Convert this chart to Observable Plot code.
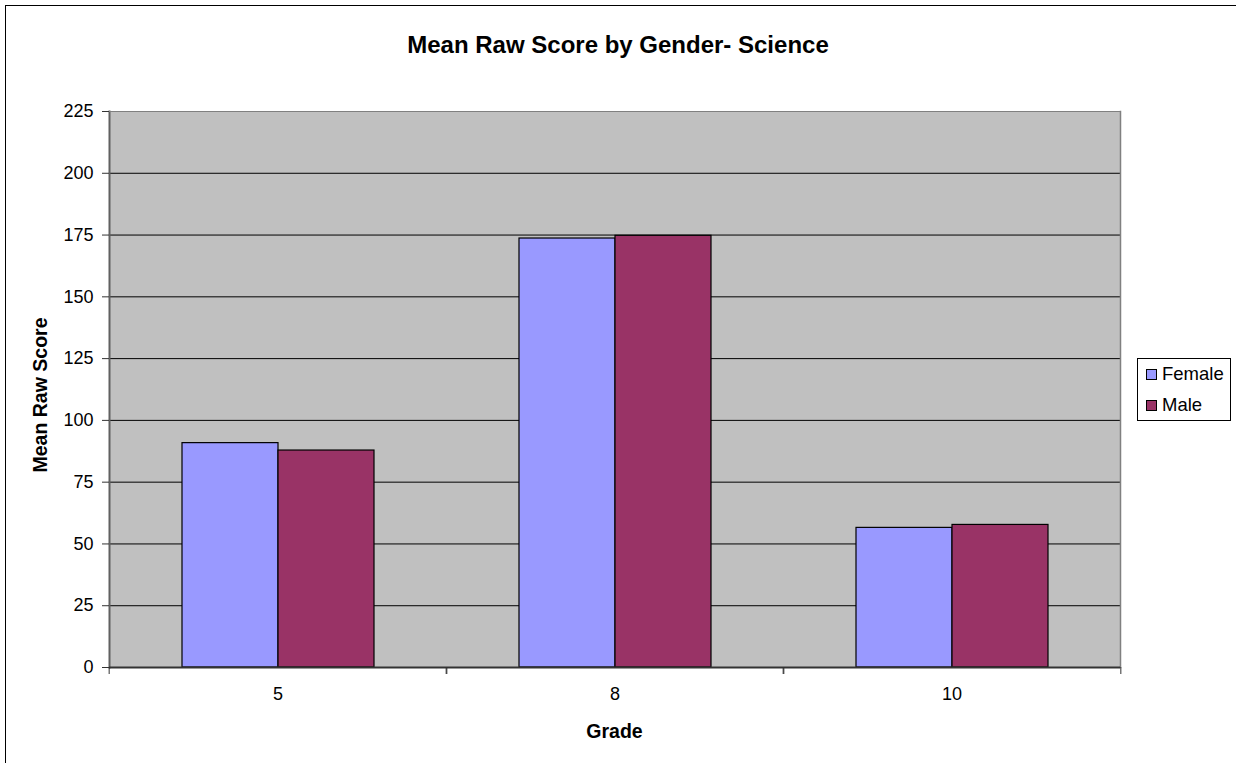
<!DOCTYPE html>
<html>
<head>
<meta charset="utf-8">
<script src="https://cdn.jsdelivr.net/npm/d3@7"></script>
<script src="https://cdn.jsdelivr.net/npm/@observablehq/plot@0.6"></script>
<style>
  html, body { margin: 0; padding: 0; background: #fff; overflow: hidden; }
  #wrap { position: relative; width: 1236px; height: 763px; overflow: hidden; font-family: "Liberation Sans", Arial, sans-serif; color: #000; }
  #outer { position: absolute; left: 5px; top: 5px; width: 1231px; height: 758px; border-left: 1px solid #000; border-top: 1px solid #000; box-sizing: border-box; }
  #title { position: absolute; left: 0; width: 1236px; top: 31px; text-align: center; font-weight: bold; font-size: 24px; }
  #ylab { position: absolute; left: 40px; top: 395px; transform: translate(-50%, -50%) rotate(-90deg); font-weight: bold; font-size: 19.5px; white-space: nowrap; }
  #xlab { position: absolute; left: 0; width: 1229px; top: 720px; text-align: center; font-weight: bold; font-size: 19.5px; }
  #legend { position: absolute; left: 1137px; top: 358px; width: 94px; height: 63px; border: 1px solid #000; background: #fff; box-sizing: border-box; font-size: 18.5px; }
  .item { position: absolute; left: 8px; display: flex; align-items: center; }
  .sw { width: 9px; height: 9px; border: 1px solid #000; margin-right: 5px; }
  #chart { position: absolute; left: 0; top: 0; }
</style>
</head>
<body>
<div id="wrap">
  <div id="outer"></div>
  <div id="title">Mean Raw Score by Gender- Science</div>
  <div id="ylab">Mean Raw Score</div>
  <div id="xlab">Grade</div>
  <div id="chart"></div>
  <div id="legend"></div>
</div>
<script>
const grades = ["5", "8", "10"];
const genders = ["Female", "Male"];
const femaleScores = [90.8, 173.6, 56.5];
const maleScores = [87.8, 174.7, 57.7];
const yTicks = [0, 25, 50, 75, 100, 125, 150, 175, 200, 225];
const colors = ["#9999FF", "#993366"];

const rows = grades.flatMap((g, i) => [
  {grade: g, gender: "Female", score: femaleScores[i]},
  {grade: g, gender: "Male", score: maleScores[i]}
]);

const W = 1236, H = 763, mL = 108, mR = 115, mT = 111, mB = 96;
const halfBand = (W - mL - mR) / grades.length / 2;

const chart = Plot.plot({
  width: W, height: H,
  marginLeft: mL, marginRight: mR, marginTop: mT, marginBottom: mB,
  style: {fontFamily: "'Liberation Sans', Arial, sans-serif", fontSize: "18px", color: "#000", background: "transparent", overflow: "visible"},
  fx: {domain: grades, padding: 0, label: null, axis: null},
  x: {domain: genders, paddingInner: 0, paddingOuter: 0.75, axis: null},
  y: {domain: [0, 225], label: null},
  color: {domain: genders, range: colors},
  marks: [
    Plot.frame({fill: "#C0C0C0", stroke: "#C0C0C0", strokeWidth: 1}),
    Plot.gridY(yTicks, {stroke: "#000", strokeOpacity: 1, strokeWidth: 1}),
    Plot.barY(rows, {fx: "grade", x: "gender", y: "score", fill: "gender", stroke: "#000", strokeWidth: 1.2}),
    Plot.frame({anchor: "left", stroke: "#606060", strokeWidth: 2, facetAnchor: "left"}),
    Plot.frame({anchor: "right", stroke: "#808080", strokeWidth: 1.5, facetAnchor: "right"}),
    Plot.frame({anchor: "top", stroke: "#808080", strokeWidth: 1}),
    Plot.ruleY([0], {stroke: "#333", strokeWidth: 2}),
    Plot.axisY(yTicks, {tickSize: 7, tickPadding: 9, label: null, stroke: "#333"}),
    Plot.axisFx({anchor: "bottom", tickSize: 0, tickPadding: 20, label: null}),
    Plot.axisFx({anchor: "bottom", tickSize: 7, text: null, label: null, dx: -halfBand, stroke: "#333"}),
    Plot.axisFx({anchor: "bottom", tickSize: 7, text: null, label: null, dx: halfBand, stroke: "#333"})
  ]
});
document.getElementById("chart").appendChild(chart);

const legend = document.getElementById("legend");
genders.forEach((g, i) => {
  const it = document.createElement("div");
  it.className = "item";
  it.style.top = (i === 0 ? 4 : 35) + "px";
  it.innerHTML = `<span class="sw" style="background:${colors[i]}"></span><span>${g}</span>`;
  legend.appendChild(it);
});
</script>
</body>
</html>
